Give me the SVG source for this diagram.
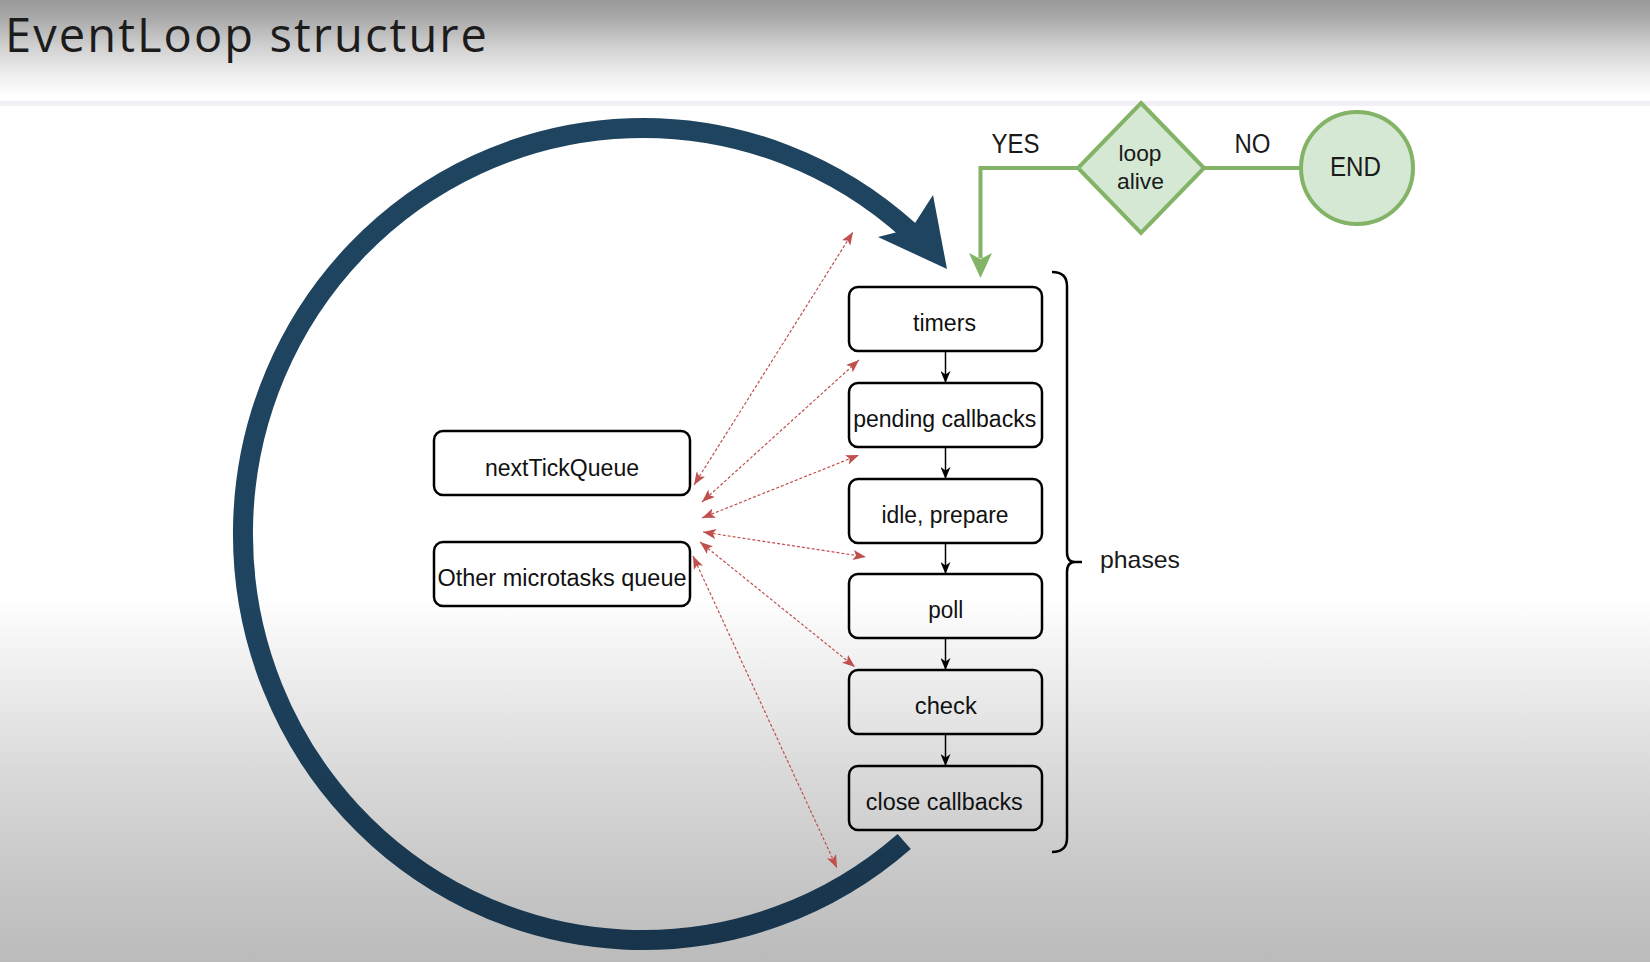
<svg xmlns="http://www.w3.org/2000/svg" width="1650" height="962" viewBox="0 0 1650 962">
<defs>
  <linearGradient id="bg" x1="0" y1="0" x2="0" y2="1">
    <stop offset="0" stop-color="#999999"/>
    <stop offset="0.02" stop-color="#ababab"/>
    <stop offset="0.05" stop-color="#d2d2d2"/>
    <stop offset="0.08" stop-color="#f0f0f0"/>
    <stop offset="0.10" stop-color="#ffffff"/>
    <stop offset="0.62" stop-color="#ffffff"/>
    <stop offset="0.70" stop-color="#eeeeee"/>
    <stop offset="0.80" stop-color="#dadada"/>
    <stop offset="0.90" stop-color="#c9c9c9"/>
    <stop offset="1" stop-color="#bbbbbb"/>
  </linearGradient>
  <linearGradient id="arcGrad" gradientUnits="userSpaceOnUse" x1="0" y1="120" x2="0" y2="950">
    <stop offset="0" stop-color="#1f4460"/>
    <stop offset="0.58" stop-color="#1f4460"/>
    <stop offset="1" stop-color="#17344b"/>
  </linearGradient>
  <marker id="redArrow" viewBox="0 0 13 10" refX="13" refY="5" markerWidth="13" markerHeight="10" markerUnits="userSpaceOnUse" orient="auto-start-reverse">
    <path d="M0,0 L13,5 L0,10 L3,5 Z" fill="#c0504d"/>
  </marker>
  <marker id="blkArrow" viewBox="0 0 12 10" refX="12" refY="5" markerWidth="12" markerHeight="10" markerUnits="userSpaceOnUse" orient="auto">
    <path d="M0,0 L12,5 L0,10 L3.5,5 Z" fill="#000"/>
  </marker>
</defs>
<style>
  .box{fill:none;stroke:#000;stroke-width:2.5}
  .t{font-family:"Liberation Sans",Arial,sans-serif;font-size:23px;fill:#111;text-anchor:middle}
  .g{font-family:"Liberation Sans",Arial,sans-serif;fill:#1a1a1a;text-anchor:middle}
  .red{fill:none;stroke:#c0504d;stroke-width:1.2;stroke-dasharray:3 2;marker-start:url(#redArrow);marker-end:url(#redArrow)}
  .blk{fill:none;stroke:#000;stroke-width:1.5;marker-end:url(#blkArrow)}
  .grn{fill:none;stroke:#82b366;stroke-width:4}
  .gshape{fill:#d5e8d4;stroke:#82b366;stroke-width:4}
</style>

<rect x="0" y="0" width="1650" height="962" fill="url(#bg)"/>
<rect x="0" y="101" width="1650" height="5" fill="#f2f0f5"/>

<text x="5" y="52" font-family="'Open Sans','Noto Sans',sans-serif" font-size="47" fill="#1c1c1c" textLength="482" lengthAdjust="spacing">EventLoop structure</text>

<g id="loop-arc">
  <path d="M904.2,841.4 A400 406 0 1 1 910,231.7" fill="none" stroke="url(#arcGrad)" stroke-width="20"/>
  <polygon points="947,269 933,195 911.5,228.6 878,237" fill="#1f4460"/>
</g>

<g id="connectors">
  <line class="red" x1="694" y1="485" x2="853" y2="232"/>
  <line class="red" x1="702" y1="502" x2="859" y2="360"/>
  <line class="red" x1="702" y1="518" x2="859" y2="455"/>
  <line class="red" x1="703" y1="532" x2="866" y2="557"/>
  <line class="red" x1="700" y1="542" x2="855" y2="667"/>
  <line class="red" x1="693" y1="556" x2="837" y2="868"/>

  <line class="blk" x1="945.5" y1="351" x2="945.5" y2="383"/>
  <line class="blk" x1="945.5" y1="447" x2="945.5" y2="479"/>
  <line class="blk" x1="945.5" y1="543" x2="945.5" y2="574"/>
  <line class="blk" x1="945.5" y1="638" x2="945.5" y2="670"/>
  <line class="blk" x1="945.5" y1="734" x2="945.5" y2="766"/>

  <path class="grn" d="M1078,168 H980.5 V258"/>
  <polygon points="980.5,278 969,253 980.5,259 992,253" fill="#82b366"/>
  <line class="grn" x1="1204" y1="168" x2="1301" y2="168"/>
  <text class="g" x="1015.5" y="153" font-size="27" textLength="48" lengthAdjust="spacingAndGlyphs">YES</text>
  <text class="g" x="1252.5" y="153" font-size="27" textLength="36" lengthAdjust="spacingAndGlyphs">NO</text>
</g>

<g id="timers">
  <rect class="box" x="849" y="287" width="193" height="64" rx="9"/>
  <text class="t" x="944.5" y="331" textLength="63" lengthAdjust="spacingAndGlyphs">timers</text>
</g>
<g id="pending-callbacks">
  <rect class="box" x="849" y="383" width="193" height="64" rx="9"/>
  <text class="t" x="944.7" y="427" textLength="183" lengthAdjust="spacingAndGlyphs">pending callbacks</text>
</g>
<g id="idle-prepare">
  <rect class="box" x="849" y="479" width="193" height="64" rx="9"/>
  <text class="t" x="945" y="523" textLength="127" lengthAdjust="spacingAndGlyphs">idle, prepare</text>
</g>
<g id="poll">
  <rect class="box" x="849" y="574" width="193" height="64" rx="9"/>
  <text class="t" x="945.8" y="618" textLength="35" lengthAdjust="spacingAndGlyphs">poll</text>
</g>
<g id="check">
  <rect class="box" x="849" y="670" width="193" height="64" rx="9"/>
  <text class="t" x="945.8" y="713.5" textLength="62" lengthAdjust="spacingAndGlyphs">check</text>
</g>
<g id="close-callbacks">
  <rect class="box" x="849" y="766" width="193" height="64" rx="9"/>
  <text class="t" x="944.3" y="809.5" textLength="157" lengthAdjust="spacingAndGlyphs">close callbacks</text>
</g>

<g id="nextTickQueue">
  <rect class="box" x="434" y="431" width="256" height="64" rx="9"/>
  <text class="t" x="562" y="476" textLength="154" lengthAdjust="spacingAndGlyphs">nextTickQueue</text>
</g>
<g id="other-microtasks-queue">
  <rect class="box" x="434" y="542" width="256" height="64" rx="9"/>
  <text class="t" x="562" y="586" textLength="249" lengthAdjust="spacingAndGlyphs">Other microtasks queue</text>
</g>

<g id="phases">
  <path d="M1052,272 Q1067,272 1067,286 V552 Q1067,562 1075,562 H1082 M1075,562 Q1067,562 1067,572 V838 Q1067,852 1052,852" fill="none" stroke="#000" stroke-width="2.5"/>
  <text x="1100" y="568" font-family="'Liberation Sans',Arial,sans-serif" font-size="24" fill="#1a1a1a" textLength="80" lengthAdjust="spacingAndGlyphs">phases</text>
</g>

<g id="loop-alive">
  <polygon class="gshape" points="1141,103 1204,168 1141,233 1078,168"/>
  <text class="g" x="1140" y="161" font-size="22" textLength="43" lengthAdjust="spacingAndGlyphs">loop</text>
  <text class="g" x="1140.5" y="188.5" font-size="22" textLength="47" lengthAdjust="spacingAndGlyphs">alive</text>
</g>

<g id="end">
  <circle class="gshape" cx="1357" cy="168" r="56"/>
  <text class="g" x="1355.5" y="176" font-size="27" textLength="51" lengthAdjust="spacingAndGlyphs">END</text>
</g>
</svg>
